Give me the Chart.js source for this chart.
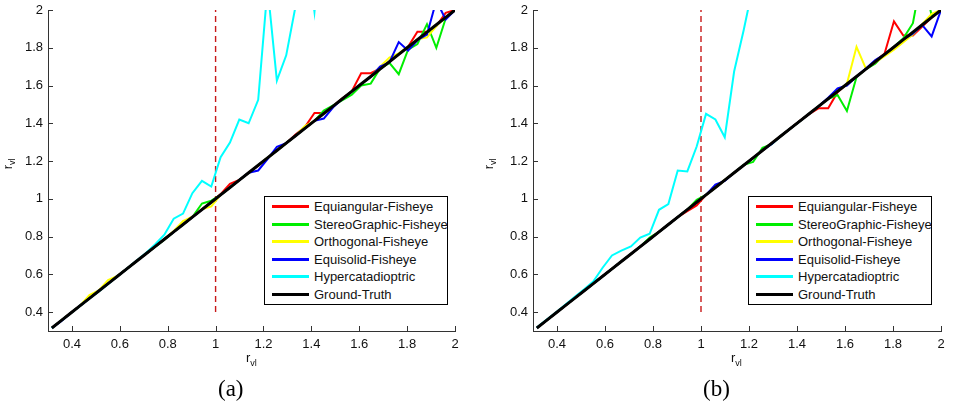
<!DOCTYPE html>
<html>
<head>
<meta charset="utf-8">
<script src="https://cdn.jsdelivr.net/npm/chart.js@4.4.0/dist/chart.umd.min.js"></script>
<style>
  body { margin: 0; width: 955px; height: 410px; overflow: hidden; background: #fff;
         font-family: "Liberation Sans", Arial, sans-serif; position: relative; }
  canvas { position: absolute; top: 0; }
  .legend { position: absolute; top: 196px; width: 182px; height: 106px; border: 1px solid #000;
            background: #fff; padding-top: 1px; box-sizing: content-box; }
  .legend .row { height: 17.5px; line-height: 17.5px; font-size: 13px; color: #111; white-space: nowrap; }
  .legend .swatch { display: inline-block; width: 37px; height: 3px; margin-left: 7px; margin-right: 5px;
                    vertical-align: middle; position: relative; top: -1px; }
  .xtitle, .ytitle { position: absolute; font-size: 13px; color: #111; }
  .xtitle sub, .ytitle sub { font-size: 9px; }
  .ytitle { transform: rotate(-90deg); transform-origin: center center; }
  .caption { position: absolute; top: 376px; font-family: "Liberation Serif", "Times New Roman", serif;
             font-size: 23px; color: #000; }
</style>
</head>
<body>
<canvas id="chartA" width="480" height="410" style="left:0"></canvas>
<canvas id="chartB" width="470" height="410" style="left:485px"></canvas>
<div class="legend" id="legendA" style="left:264px"></div>
<div class="legend" id="legendB" style="left:748px"></div>
<div class="xtitle" style="left:246px;top:350px">r<sub>vl</sub></div>
<div class="xtitle" style="left:731px;top:350px">r<sub>vl</sub></div>
<div class="ytitle" style="left:3px;top:155px">r<sub>vl</sub></div>
<div class="ytitle" style="left:484px;top:155px">r<sub>vl</sub></div>
<div class="caption" style="left:218px">(a)</div>
<div class="caption" style="left:703px">(b)</div>
<script>
// true r_vl (x axis) sampled for every method
const xs = [0.316, 0.355, 0.394, 0.433, 0.473, 0.512, 0.551, 0.590, 0.629, 0.668,
            0.708, 0.747, 0.786, 0.825, 0.864, 0.903, 0.943, 0.982, 1.021, 1.060,
            1.099, 1.138, 1.178, 1.217, 1.256, 1.295, 1.334, 1.373, 1.413, 1.452,
            1.491, 1.530, 1.569, 1.608, 1.648, 1.687, 1.726, 1.765, 1.804, 1.843,
            1.883, 1.922, 1.961, 2.000];
const groundTruth = [0.316, 0.355, 0.394, 0.433, 0.473, 0.512, 0.551, 0.590, 0.629, 0.668,
            0.708, 0.747, 0.786, 0.825, 0.864, 0.903, 0.943, 0.982, 1.021, 1.060,
            1.099, 1.138, 1.178, 1.217, 1.256, 1.295, 1.334, 1.373, 1.413, 1.452,
            1.491, 1.530, 1.569, 1.608, 1.648, 1.687, 1.726, 1.765, 1.804, 1.843,
            1.883, 1.922, 1.961, 2.000];

// (a)
const equiangularA = [0.316, 0.356, 0.395, 0.433, 0.474, 0.512, 0.552, 0.591, 0.629, 0.669,
            0.708, 0.747, 0.786, 0.826, 0.864, 0.903, 0.944, 0.985, 1.025, 1.080,
            1.100, 1.138, 1.176, 1.217, 1.256, 1.295, 1.340, 1.380, 1.455, 1.455,
            1.491, 1.532, 1.570, 1.665, 1.665, 1.690, 1.726, 1.765, 1.805, 1.885,
            1.885, 1.915, 1.985, 2.000];
const stereoA = [0.316, 0.355, 0.394, 0.433, 0.473, 0.512, 0.551, 0.590, 0.629, 0.668,
            0.708, 0.745, 0.784, 0.825, 0.864, 0.903, 0.975, 0.990, 1.021, 1.060,
            1.099, 1.138, 1.178, 1.217, 1.256, 1.295, 1.334, 1.373, 1.413, 1.468,
            1.495, 1.522, 1.552, 1.600, 1.610, 1.690, 1.720, 1.660, 1.790, 1.820,
            1.925, 1.800, 1.955, 2.000];
const orthoA = [0.316, 0.355, 0.394, 0.433, 0.490, 0.515, 0.570, 0.592, 0.629, 0.668,
            0.708, 0.747, 0.786, 0.830, 0.882, 0.905, 0.945, 0.960, 1.021, 1.060,
            1.099, 1.138, 1.178, 1.217, 1.256, 1.295, 1.334, 1.385, 1.413, 1.452,
            1.491, 1.530, 1.569, 1.608, 1.648, 1.700, 1.748, 1.770, 1.805, 1.845,
            1.855, 1.915, 1.960, 2.000];
const equisolidA = [0.316, 0.352, 0.394, 0.433, 0.473, 0.512, 0.551, 0.590, 0.629, 0.668,
            0.708, 0.747, 0.786, 0.825, 0.864, 0.903, 0.943, 0.982, 1.021, 1.060,
            1.099, 1.138, 1.150, 1.210, 1.275, 1.295, 1.334, 1.373, 1.413, 1.425,
            1.485, 1.530, 1.569, 1.608, 1.645, 1.700, 1.722, 1.830, 1.785, 1.840,
            1.870, 2.050, 1.950, 2.000];
const hyperA = [0.316, 0.355, 0.394, 0.433, 0.472, 0.510, 0.549, 0.590, 0.630, 0.670,
            0.712, 0.758, 0.810, 0.895, 0.922, 1.030, 1.095, 1.065, 1.220, 1.298,
            1.420, 1.400, 1.524, 2.120, 1.626, 1.760, 2.020, 2.400, 1.990, 2.500,
            2.650];

// (b)
const equiangularB = [0.316, 0.355, 0.394, 0.433, 0.473, 0.512, 0.551, 0.590, 0.629, 0.668,
            0.708, 0.747, 0.786, 0.825, 0.864, 0.903, 0.935, 0.965, 1.021, 1.060,
            1.099, 1.138, 1.178, 1.217, 1.256, 1.295, 1.334, 1.373, 1.415, 1.450,
            1.480, 1.480, 1.565, 1.608, 1.648, 1.687, 1.730, 1.770, 1.940, 1.865,
            1.865, 1.912, 1.960, 2.000];
const stereoB = [0.316, 0.355, 0.394, 0.433, 0.473, 0.512, 0.551, 0.590, 0.629, 0.668,
            0.708, 0.747, 0.795, 0.825, 0.864, 0.903, 0.943, 0.995, 1.021, 1.060,
            1.099, 1.138, 1.180, 1.195, 1.270, 1.290, 1.334, 1.373, 1.413, 1.452,
            1.491, 1.530, 1.550, 1.465, 1.645, 1.687, 1.715, 1.765, 1.805, 1.850,
            1.930, 2.200, 1.970, 2.000];
const orthoB = [0.316, 0.355, 0.394, 0.433, 0.473, 0.512, 0.551, 0.590, 0.629, 0.668,
            0.708, 0.747, 0.786, 0.825, 0.864, 0.903, 0.943, 0.982, 1.021, 1.060,
            1.099, 1.138, 1.178, 1.217, 1.256, 1.295, 1.334, 1.373, 1.413, 1.452,
            1.491, 1.530, 1.569, 1.610, 1.805, 1.690, 1.722, 1.755, 1.790, 1.830,
            1.870, 1.925, 1.980, 2.000];
const equisolidB = [0.316, 0.355, 0.394, 0.433, 0.473, 0.512, 0.551, 0.590, 0.629, 0.668,
            0.708, 0.747, 0.786, 0.825, 0.864, 0.903, 0.943, 0.982, 1.021, 1.075,
            1.095, 1.138, 1.178, 1.217, 1.256, 1.290, 1.334, 1.373, 1.413, 1.452,
            1.491, 1.535, 1.585, 1.600, 1.648, 1.690, 1.735, 1.765, 1.804, 1.845,
            1.875, 1.920, 1.860, 2.000];
const hyperB = [0.319, 0.358, 0.397, 0.438, 0.480, 0.520, 0.562, 0.635, 0.700, 0.726,
            0.748, 0.795, 0.815, 0.942, 0.972, 1.150, 1.145, 1.277, 1.450, 1.420,
            1.326, 1.674, 1.894, 2.130, 2.350];

const seriesNames = ['Equiangular-Fisheye', 'StereoGraphic-Fisheye', 'Orthogonal-Fisheye',
                     'Equisolid-Fisheye', 'Hypercatadioptric', 'Ground-Truth'];
const xTicks = [0.4, 0.6, 0.8, 1, 1.2, 1.4, 1.6, 1.8, 2];
const xTickLabels = ['0.4', '0.6', '0.8', '1', '1.2', '1.4', '1.6', '1.8', '2'];
const yTicks = [0.4, 0.6, 0.8, 1, 1.2, 1.4, 1.6, 1.8, 2];
const yTickLabels = ['0.4', '0.6', '0.8', '1', '1.2', '1.4', '1.6', '1.8', '2'];
const markerX = [1, 1];
const markerY = [0.4, 2];

const colors = ['#ff0000', '#00ee00', '#ffff00', '#0000ff', '#00ffff', '#000000'];

// MATLAB style ticks pointing into the axes
const innerTicks = {
    id: 'innerTicks',
    afterDatasetsDraw(chart) {
        const { ctx, chartArea: a, scales: { x, y } } = chart;
        ctx.save();
        ctx.strokeStyle = '#333';
        ctx.lineWidth = 1;
        ctx.beginPath();
        xTicks.forEach(v => {
            const px = Math.round(x.getPixelForValue(v)) + 0.5;
            ctx.moveTo(px, a.bottom); ctx.lineTo(px, a.bottom - 5);
        });
        yTicks.forEach(v => {
            const py = Math.round(y.getPixelForValue(v)) + 0.5;
            ctx.moveTo(a.left, py); ctx.lineTo(a.left + 5, py);
        });
        ctx.stroke();
        ctx.restore();
    }
};

function pts(vals) {
    return vals.map((v, i) => ({ x: xs[i], y: v }));
}

function makeChart(id, legendId, series, rightPad) {
    const datasets = series.map((vals, i) => ({
        label: seriesNames[i],
        data: pts(vals),
        borderColor: colors[i],
        borderWidth: i === 5 ? 3 : 2,
        order: 6 - i
    }));
    datasets.push({
        label: '',
        data: markerX.map((v, i) => ({ x: v, y: markerY[i] })),
        borderColor: 'rgb(200,25,25)',
        borderWidth: 1.4,
        borderDash: [6, 4],
        order: 10
    });

    const chart = new Chart(document.getElementById(id), {
        type: 'scatter',
        data: { datasets },
        options: {
            responsive: false,
            animation: false,
            showLine: true,
            elements: { point: { radius: 0 }, line: { tension: 0 } },
            layout: { padding: { left: 0, top: 10, right: rightPad, bottom: 0 } },
            plugins: { legend: { display: false }, tooltip: { enabled: false } },
            scales: {
                x: {
                    type: 'linear', min: 0.3, max: 2,
                    grid: { display: false, drawTicks: false },
                    border: { display: true, color: '#333', width: 1 },
                    afterBuildTicks: s => { s.ticks = xTicks.map(v => ({ value: v })); },
                    ticks: {
                        padding: 6, color: '#111', maxRotation: 0, autoSkip: false,
                        font: { family: 'Liberation Sans', size: 13 },
                        callback: (v, i) => xTickLabels[i]
                    },
                    afterFit: s => { s.height = 79; s.paddingLeft = 0; s.paddingRight = 0; }
                },
                y: {
                    type: 'linear', min: 0.3, max: 2,
                    grid: { display: false, drawTicks: false },
                    border: { display: true, color: '#333', width: 1 },
                    afterBuildTicks: s => { s.ticks = yTicks.map(v => ({ value: v })); },
                    ticks: {
                        padding: 5, color: '#111', autoSkip: false,
                        font: { family: 'Liberation Sans', size: 13 },
                        callback: (v, i) => yTickLabels[i]
                    },
                    afterFit: s => { s.width = 48; s.paddingTop = 0; s.paddingBottom = 0; }
                }
            }
        },
        plugins: [innerTicks]
    });

    const box = document.getElementById(legendId);
    chart.data.datasets.filter(d => d.label).forEach(d => {
        const row = document.createElement('div');
        row.className = 'row';
        const sw = document.createElement('span');
        sw.className = 'swatch';
        sw.style.background = d.borderColor;
        row.appendChild(sw);
        row.appendChild(document.createTextNode(d.label));
        box.appendChild(row);
    });
    return chart;
}

makeChart('chartA', 'legendA', [equiangularA, stereoA, orthoA, equisolidA, hyperA, groundTruth], 25);
makeChart('chartB', 'legendB', [equiangularB, stereoB, orthoB, equisolidB, hyperB, groundTruth], 14);
</script>
</body>
</html>
